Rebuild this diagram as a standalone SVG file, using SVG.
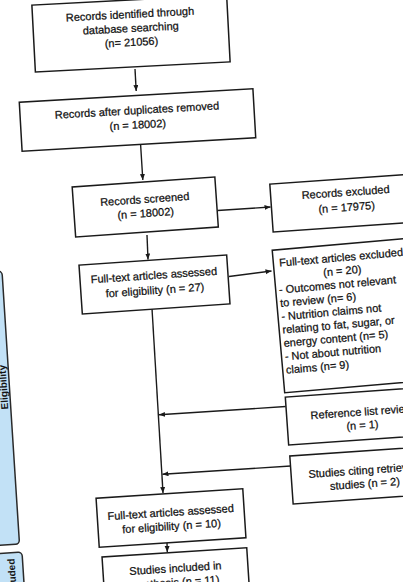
<svg xmlns="http://www.w3.org/2000/svg" width="403" height="582" viewBox="0 0 403 582">
<defs>
<style>
.box{fill:#fff;stroke:#1a1a1a;stroke-width:1.5}
.bar{fill:#c2e1f6;stroke:#2a2a2a;stroke-width:1.5}
.t{font-family:"Liberation Sans",Arial,sans-serif;font-size:11px;fill:#111;stroke:#111;stroke-width:0.25}
.c{text-anchor:middle}
.bt{font-family:"Liberation Sans",Arial,sans-serif;font-size:10px;font-weight:bold;fill:#151515}
.con{fill:none;stroke:#1a1a1a;stroke-width:1.4}
</style>
<marker id="ah" markerUnits="userSpaceOnUse" markerWidth="7" markerHeight="6" refX="6" refY="2.5" orient="auto">
<path d="M0,0 L6,2.5 L0,5 Z" fill="#1a1a1a"/>
</marker>
</defs>
<rect width="403" height="582" fill="#fff"/>

<g id="bar-eligibility" transform="translate(19.5,544) rotate(-3.67)">
<rect class="bar" x="-40" y="-273.5" width="40" height="273.5" rx="4"/>
<text class="bt" transform="translate(-2.5,-157.5) rotate(-90)" text-anchor="middle">Eligibility</text>
</g>
<g id="bar-included" transform="translate(22,552) rotate(-3.67)">
<rect class="bar" x="-40" y="0" width="40" height="80" rx="4"/>
<text class="bt" transform="translate(-8,6) rotate(-90)" text-anchor="end">Included</text>
</g>

<g id="connectors">
<path class="con" d="M135,69 L136.2,91" marker-end="url(#ah)"/>
<path class="con" d="M140.5,143 L142.8,180" marker-end="url(#ah)"/>
<path class="con" d="M147,235 L148,259.5" marker-end="url(#ah)"/>
<path class="con" d="M217.5,210.5 L270.5,207" marker-end="url(#ah)"/>
<path class="con" d="M229,276.5 L271.5,271" marker-end="url(#ah)"/>
<path class="con" d="M152,308.5 L163,493" marker-end="url(#ah)"/>
<path class="con" d="M285.7,406.5 L159,414.8" marker-end="url(#ah)"/>
<path class="con" d="M290.7,466 L162.5,474.2" marker-end="url(#ah)"/>
<path class="con" d="M167,542.5 L167.3,552" marker-end="url(#ah)"/>
</g>

<g id="identified" transform="rotate(-3,131,33.5)">
<rect class="box" x="33.5" y="0" width="195" height="67"/>
<text class="t c" x="131" y="18">Records identified through</text>
<text class="t c" x="131" y="32">database searching</text>
<text class="t c" x="131" y="46">(n= 21056)</text>
</g>

<g id="deduplicated" transform="rotate(-3.3,137.5,120)">
<rect class="box" x="20.5" y="95.5" width="234" height="49"/>
<text class="t c" x="137.5" y="114">Records after duplicates removed</text>
<text class="t c" x="137.5" y="128.5">(n = 18002)</text>
</g>

<g id="screened" transform="rotate(-4,145.25,207)">
<rect class="box" x="73.75" y="182" width="143" height="50"/>
<text class="t c" x="145.25" y="203">Records screened</text>
<text class="t c" x="145.25" y="217">(n = 18002)</text>
</g>

<g id="excluded" transform="rotate(-4,346.3,202.8)">
<rect class="box" x="271.3" y="178.8" width="150" height="48"/>
<text class="t c" x="346.3" y="196">Records excluded</text>
<text class="t c" x="346.3" y="211">(n = 17975)</text>
</g>

<g id="fulltext27" transform="rotate(-3.9,154.5,284.5)">
<rect class="box" x="80.5" y="260" width="148" height="49"/>
<text class="t c" x="154.5" y="279">Full-text articles assessed</text>
<text class="t c" x="154.5" y="294">for eligibility (n = 27)</text>
</g>

<g id="fulltext-excluded" transform="rotate(-5,346.2,315.6)">
<rect class="box" x="278.2" y="244.1" width="136" height="143"/>
<text class="t c" x="346.2" y="261">Full-text articles excluded</text>
<text class="t c" x="346.2" y="274.4">(n = 20)</text>
<text class="t" x="281.5" y="287.8">- Outcomes not relevant</text>
<text class="t" x="281.5" y="301.2">to review (n= 6)</text>
<text class="t" x="281.5" y="314.6">- Nutrition claims not</text>
<text class="t" x="281.5" y="328">relating to fat, sugar, or</text>
<text class="t" x="281.5" y="341.4">energy content (n= 5)</text>
<text class="t" x="281.5" y="354.8">- Not about nutrition</text>
<text class="t" x="281.5" y="368.2">claims (n= 9)</text>
</g>

<g id="reference-list" transform="rotate(-4,361.8,415.8)">
<rect class="box" x="286.8" y="391.8" width="150" height="48"/>
<text class="t c" x="361.8" y="415.6">Reference list review</text>
<text class="t c" x="361.8" y="429">(n = 1)</text>
</g>

<g id="citing" transform="rotate(-4,364.3,474.9)">
<rect class="box" x="291.3" y="450.9" width="146" height="48"/>
<text class="t c" x="364.3" y="474">Studies citing retrieved</text>
<text class="t c" x="364.3" y="487.5">studies (n = 2)</text>
</g>

<g id="fulltext10" transform="rotate(-3.7,171,518)">
<rect class="box" x="97.5" y="493.5" width="147" height="49"/>
<text class="t c" x="171" y="516">Full-text articles assessed</text>
<text class="t c" x="171" y="530">for eligibility (n = 10)</text>
</g>

<g id="included" transform="rotate(-3.7,176,577.3)">
<rect class="box" x="103.5" y="552.3" width="145" height="60"/>
<text class="t c" x="176" y="572">Studies included in</text>
<text class="t c" x="176" y="586">synthesis (n = 11)</text>
</g>
</svg>
